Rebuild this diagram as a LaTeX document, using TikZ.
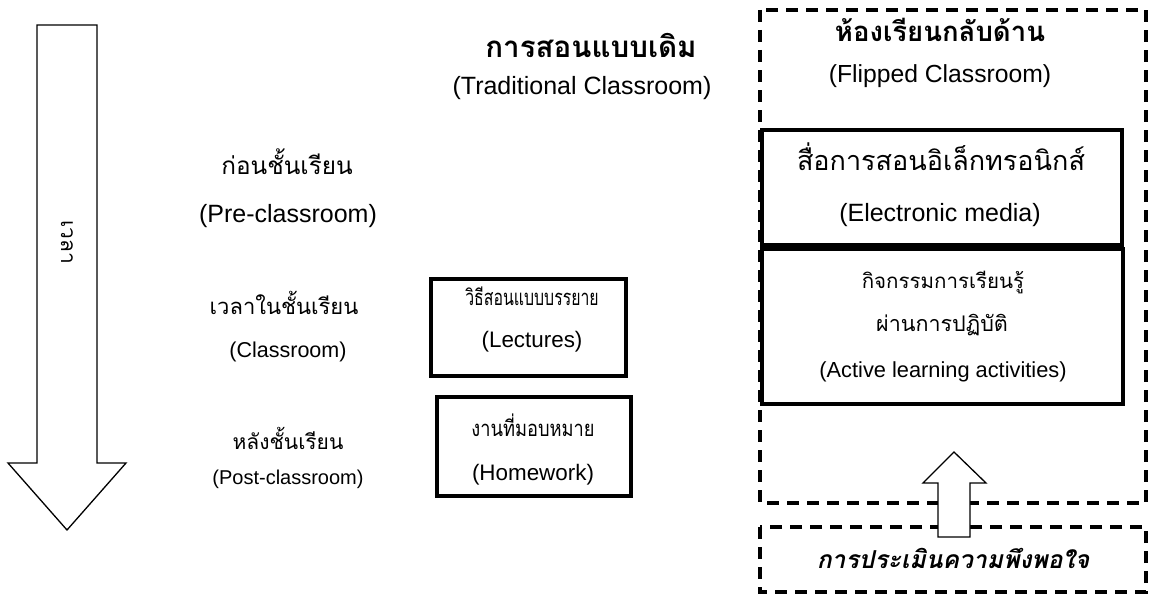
\documentclass[tikz,border=0pt]{standalone}
\usepackage{fontspec}
\setmainfont{Liberation Sans}
\newfontfamily\thai[Script=Thai]{Loma}
\newfontfamily\thaiA[Script=Thai,FakeStretch=0.72]{Loma}
\newfontfamily\thaiB[Script=Thai,FakeStretch=0.83]{Loma}
\begin{document}
\begin{tikzpicture}[x=1pt,y=-1pt,
  solidbox/.style={draw=black,line width=3.2pt},
  dashbox/.style={draw=black,line width=3.2pt,dash pattern=on 12pt off 8pt},
  bigarrow/.style={draw=black,line width=1.3pt,fill=white,line join=miter},
  lbl/.style={inner sep=0pt,anchor=center},
  th/.style={lbl,font=\thai\fontsize{#1}{#1}\selectfont},
  thb/.style={lbl,font=\thai\bfseries\fontsize{#1}{#1}\selectfont},
  en/.style={lbl,font=\fontsize{#1}{#1}\selectfont}]
\useasboundingbox (0,0) rectangle (1153,594);
% time arrow
\draw[bigarrow] (37,25) -- (97,25) -- (97,463) -- (126,463) -- (67,530) -- (8,463) -- (37,463) -- cycle;
\node[th=21,rotate=-90] (time) at (67,242) {เวลา};
% left labels
\node[th=24.3] (pre) at (287,162) {ก่อนชั้นเรียน};
\node[en=25] (preE) at (288,216) {(Pre-classroom)};
\node[th=22] (cls) at (284,303) {เวลาในชั้นเรียน};
\node[en=21.5] (clsE) at (288,352) {(Classroom)};
\node[th=21] (post) at (288,438) {หลังชั้นเรียน};
\node[en=20] (postE) at (288,479) {(Post-classroom)};
% traditional
\node[thb=29.5] (tradT) at (591,45) {การสอนแบบเดิม};
\node[en=25] (tradE) at (582,88) {(Traditional Classroom)};
\draw[solidbox] (431,279) rectangle (626,376);
\node[lbl,font=\thaiA\fontsize{22}{22}\selectfont] (lecT) at (532,296) {วิธีสอนแบบบรรยาย};
\node[en=22.4] (lecE) at (532,342) {(Lectures)};
\draw[solidbox] (437,397) rectangle (631,496);
\node[lbl,font=\thaiB\fontsize{22}{22}\selectfont] (hwT) at (533,425) {งานที่มอบหมาย};
\node[en=22.4] (hwE) at (533,475) {(Homework)};
% flipped
\draw[dashbox] (760,10) rectangle (1146,503);
\draw[dashbox] (760,527) rectangle (1146,592);
\node[thb=27.5] (flipT) at (940,30) {ห้องเรียนกลับด้าน};
\node[en=24.7] (flipE) at (940,76) {(Flipped Classroom)};
\draw[solidbox] (762,130) rectangle (1122,245);
\node[th=27] (emT) at (941,157) {สื่อการสอนอิเล็กทรอนิกส์};
\node[en=25] (emE) at (940,215) {(Electronic media)};
\draw[solidbox] (762,249) rectangle (1123,404);
\node[th=20.5] (actT1) at (943,282) {กิจกรรมการเรียนรู้};
\node[th=21.5] (actT2) at (942,325) {ผ่านการปฏิบัติ};
\node[en=21.8] (actE) at (943,372) {(Active learning activities)};
\draw[bigarrow] (938,537) -- (938,483) -- (923,483) -- (954,452) -- (986,483) -- (970,483) -- (970,537) -- cycle;
\node[lbl,font=\thai\bfseries\itshape\fontsize{24.7}{24.7}\selectfont] (evalT) at (953,558) {การประเมินความพึงพอใจ};
\end{tikzpicture}
\end{document}
